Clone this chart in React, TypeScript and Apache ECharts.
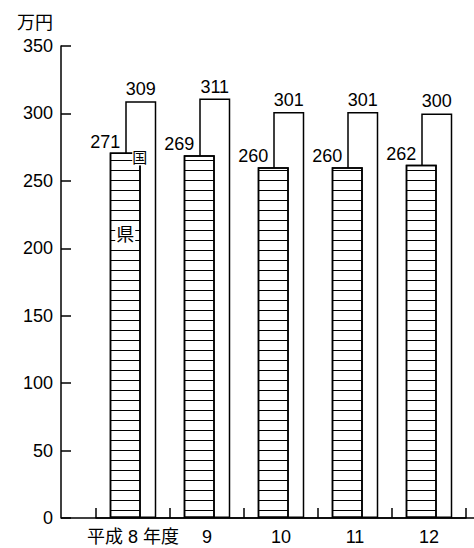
import React, { useEffect, useRef } from "react";
import * as echarts from "echarts";

const categories = ["平成 8 年度", "9", "10", "11", "12"];
const prefValues = [271, 269, 260, 260, 262]; // 県
const nationalValues = [309, 311, 301, 301, 300]; // 国
const yMin = 0;
const yMax = 350;
const yInterval = 50;
const unitLabel = "万円";
const prefTag = { text: "県", category: 0, value: 210 };
const nationalTag = { text: "国", category: 0, value: 267 };

const FONT = '"Liberation Sans", "Noto Sans CJK JP", sans-serif';

export default function App() {
  const ref = useRef<HTMLDivElement>(null);
  useEffect(() => {
    if (!ref.current) return;
    const chart = echarts.init(ref.current, undefined, { renderer: "svg" });
    const gridLeft = 96;
    const axisOffset = 35;
    chart.setOption({
      animation: false,
      backgroundColor: "#fff",
      title: {
        text: unitLabel,
        left: 12,
        top: 9,
        textStyle: { fontSize: 18, fontWeight: "normal", color: "#000", fontFamily: FONT },
      },
      grid: { left: gridLeft, right: 8, top: 46, bottom: 30 },
      xAxis: {
        type: "category",
        data: categories,
        boundaryGap: true,
        axisLine: { show: true, lineStyle: { color: "#000", width: 1.5 } },
        axisTick: { show: true, inside: true, length: 10, lineStyle: { color: "#000", width: 1.5 } },
        axisLabel: { color: "#000", fontSize: 18, fontFamily: FONT, margin: 10, interval: 0 },
      },
      yAxis: {
        type: "value",
        min: yMin,
        max: yMax,
        interval: yInterval,
        offset: axisOffset,
        splitLine: { show: false },
        axisLine: { show: true, lineStyle: { color: "#000", width: 1.5 } },
        axisTick: { show: true, inside: true, length: 10, lineStyle: { color: "#000", width: 1.5 } },
        axisLabel: { color: "#000", fontSize: 18, fontFamily: FONT, margin: 8 },
      },
      series: [
        {
          name: "県",
          type: "bar",
          data: prefValues,
          barWidth: 31,
          barGap: "-50%",
          z: 3,
          itemStyle: {
            color: "#fff",
            borderColor: "#000",
            borderWidth: 1.5,
            decal: {
              symbol: "rect",
              symbolSize: 1,
              color: "#000",
              dashArrayX: [1, 0],
              dashArrayY: [1, 8.2],
              rotation: 0,
            },
          },
          label: {
            show: true,
            position: "top",
            distance: 2,
            offset: [-20, 0],
            color: "#000",
            fontSize: 18,
            fontFamily: FONT,
          },
          markPoint: {
            symbol: "rect",
            symbolSize: 0,
            data: [
              {
                coord: [prefTag.category, prefTag.value],
                label: {
                  show: true,
                  formatter: prefTag.text,
                  position: "inside",
                  offset: [0, 0],
                  color: "#000",
                  fontSize: 18,
                  fontFamily: FONT,
                  backgroundColor: "#fff",
                  padding: [1, 1],
                },
              },
            ],
          },
        },
        {
          name: "国",
          type: "bar",
          data: nationalValues,
          barWidth: 31,
          z: 2,
          itemStyle: { color: "#fff", borderColor: "#000", borderWidth: 1.5 },
          label: {
            show: true,
            position: "top",
            distance: 3,
            color: "#000",
            fontSize: 18,
            fontFamily: FONT,
          },
          markPoint: {
            symbol: "rect",
            symbolSize: 0,
            data: [
              {
                coord: [nationalTag.category, nationalTag.value],
                label: {
                  show: true,
                  formatter: nationalTag.text,
                  position: "inside",
                  offset: [-1, 0],
                  color: "#000",
                  fontSize: 15,
                  fontFamily: FONT,
                  backgroundColor: "#fff",
                  padding: [0, 0],
                },
              },
            ],
          },
        },
      ],
    });
    const zeroY = chart.convertToPixel({ yAxisIndex: 0 }, 0) as number;
    chart.setOption({
      graphic: [
        {
          type: "line",
          shape: { x1: gridLeft - axisOffset, y1: zeroY, x2: 474, y2: zeroY },
          style: { stroke: "#000", lineWidth: 1.5 },
          z: 10,
        },
      ],
    });
    return () => chart.dispose();
  }, []);
  return (
    <div
      ref={ref}
      style={{ position: "fixed", left: 0, top: 0, width: 474, height: 548, background: "#fff" }}
    />
  );
}
